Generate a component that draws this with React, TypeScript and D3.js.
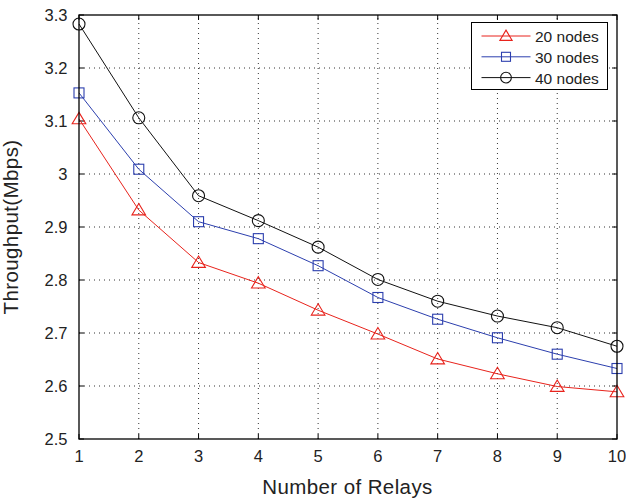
import React from "react";
import * as d3 from "d3";

const relays = [1, 2, 3, 4, 5, 6, 7, 8, 9, 10];
const nodes20 = [3.104, 2.932, 2.833, 2.794, 2.743, 2.698, 2.651, 2.623, 2.599, 2.589];
const nodes30 = [3.153, 3.009, 2.91, 2.878, 2.827, 2.767, 2.726, 2.691, 2.66, 2.633];
const nodes40 = [3.283, 3.106, 2.959, 2.912, 2.862, 2.801, 2.76, 2.732, 2.71, 2.675];
const yTicks = [2.5, 2.6, 2.7, 2.8, 2.9, 3, 3.1, 3.2, 3.3];
const seriesNames = ["20 nodes", "30 nodes", "40 nodes"];

const W = 626;
const H = 500;
const m = { left: 79, right: 9, top: 15, bottom: 61 };
const FONT = "Liberation Sans, Arial, Helvetica, sans-serif";

type Series = { name: string; values: number[]; color: string; marker: "tri" | "sq" | "circ" };

const series: Series[] = [
  { name: seriesNames[0], values: nodes20, color: "#e8231c", marker: "tri" },
  { name: seriesNames[1], values: nodes30, color: "#2c3fae", marker: "sq" },
  { name: seriesNames[2], values: nodes40, color: "#111111", marker: "circ" },
];

function Marker({ kind, x, y, color, k = 1 }: { kind: string; x: number; y: number; color: string; k?: number }) {
  if (kind === "tri") {
    const s = 6.5 * k;
    const p = d3.path();
    p.moveTo(x, y - s);
    p.lineTo(x + s * 1.05, y + s * 0.75);
    p.lineTo(x - s * 1.05, y + s * 0.75);
    p.closePath();
    return <path d={p.toString()} fill="none" stroke={color} strokeWidth={1.1} />;
  }
  if (kind === "sq") {
    const s = 5 * k;
    return <rect x={x - s} y={y - s} width={2 * s} height={2 * s} fill="none" stroke={color} strokeWidth={1.1} />;
  }
  return <circle cx={x} cy={y} r={6 * k} fill="none" stroke={color} strokeWidth={1.1} />;
}

export default function App() {
  const x = d3.scaleLinear().domain([1, 10]).range([m.left, W - m.right]);
  const y = d3.scaleLinear().domain([2.5, 3.3]).range([H - m.bottom, m.top]);
  const x0 = x.range()[0], x1 = x.range()[1];
  const y0 = y.range()[0], y1 = y.range()[1];
  const line = d3.line<number>().x((_, i) => x(relays[i])).y((v) => y(v));
  const tickLen = 5;

  const lx0 = 471.5, ly0 = 22.5, lw = 136, lh = 67;

  return (
    <svg width={W} height={H} style={{ position: "absolute", left: 0, top: 0, background: "#fff" }}>
      {/* grid */}
      <g stroke="#333" strokeWidth={1} strokeDasharray="1,4">
        {relays.slice(1, -1).map((r) => (
          <line key={"gx" + r} x1={x(r)} x2={x(r)} y1={y0} y2={y1} />
        ))}
        {yTicks.slice(1, -1).map((t) => (
          <line key={"gy" + t} x1={x0} x2={x1} y1={y(t)} y2={y(t)} />
        ))}
      </g>
      {/* inward ticks on all sides */}
      <g stroke="#000" strokeWidth={1}>
        {relays.map((r) => (
          <g key={"tx" + r}>
            <line x1={x(r)} x2={x(r)} y1={y0} y2={y0 - tickLen} />
            <line x1={x(r)} x2={x(r)} y1={y1} y2={y1 + tickLen} />
          </g>
        ))}
        {yTicks.map((t) => (
          <g key={"ty" + t}>
            <line x1={x0} x2={x0 + tickLen} y1={y(t)} y2={y(t)} />
            <line x1={x1} x2={x1 - tickLen} y1={y(t)} y2={y(t)} />
          </g>
        ))}
      </g>
      {/* series */}
      {series.map((s) => (
        <g key={s.name}>
          <path d={line(s.values) || ""} fill="none" stroke={s.color} strokeWidth={1} />
          {s.values.map((v, i) => (
            <Marker key={i} kind={s.marker} x={x(relays[i])} y={y(v)} color={s.color} />
          ))}
        </g>
      ))}
      {/* frame */}
      <rect x={x0} y={y1} width={x1 - x0} height={y0 - y1} fill="none" stroke="#000" strokeWidth={1.3} />
      {/* tick labels */}
      <g fontFamily={FONT} fontSize={16.5} fill="#222">
        {relays.map((r) => (
          <text key={"lx" + r} x={x(r)} y={y0 + 22.5} textAnchor="middle">
            {r}
          </text>
        ))}
        {yTicks.map((t) => (
          <text key={"ly" + t} x={x0 - 11.5} y={y(t) + 5.8} textAnchor="end">
            {d3.format("")(t)}
          </text>
        ))}
      </g>
      {/* axis titles */}
      <text x={(x0 + x1) / 2 - 0.5} y={494} textAnchor="middle" fontFamily={FONT} fontSize={20.5} letterSpacing={0.4} fill="#222">
        Number of Relays
      </text>
      <text
        transform={`translate(18, ${(y0 + y1) / 2}) rotate(-90)`}
        textAnchor="middle"
        fontFamily={FONT}
        fontSize={20.5}
        letterSpacing={0.4}
        fill="#222"
      >
        Throughput(Mbps)
      </text>
      {/* legend */}
      <rect x={lx0} y={ly0} width={lw} height={lh} fill="#fff" stroke="#000" strokeWidth={1} />
      {series.map((s, i) => {
        const cy = ly0 + 13.5 + i * 20.8;
        return (
          <g key={"lg" + s.name}>
            <line x1={lx0 + 10} x2={lx0 + 59} y1={cy} y2={cy} stroke={s.color} strokeWidth={1} />
            <Marker kind={s.marker} x={lx0 + 34.5} y={cy} color={s.color} k={0.9} />
            <text x={lx0 + 63.5} y={cy + 6} fontFamily={FONT} fontSize={15.5} fill="#222">
              {s.name}
            </text>
          </g>
        );
      })}
    </svg>
  );
}
